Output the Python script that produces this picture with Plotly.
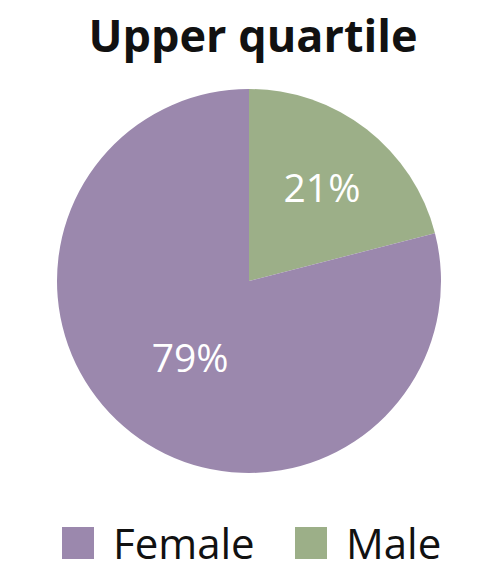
import plotly.graph_objects as go

# Data
labels = ["Female", "Male"]
values = [79, 21]
title_text = "Upper quartile"

colors = {
    "Female": "#9b88ad",
    "Male": "#9caf88",
}

# the page puts the figure 8px in from the top-left corner
OFF = 8
W, H = 498 - OFF, 573 - OFF
FONT = "Open Sans, Lato, sans-serif"


def px(x):
    return (x - OFF) / W


def py(y):
    return 1 - (y - OFF) / H


# Male slice runs clockwise from 12 o'clock, so feed it to the pie first
fig = go.Figure(go.Pie(
    labels=labels[::-1],
    values=values[::-1],
    sort=False,
    direction="clockwise",
    rotation=0,
    marker=dict(colors=[colors[l] for l in labels[::-1]], line=dict(width=0)),
    textinfo="percent",
    textposition="inside",
    insidetextorientation="horizontal",
    textfont=dict(family=FONT, size=39, color="white", weight=500),
    domain=dict(x=[px(57), px(441)], y=[py(473), py(89)]),
    showlegend=False,
    hoverinfo="label+percent",
))

# hand-made legend so the swatches can be big
legend_x = [62, 295]
for lab, x0 in zip(labels, legend_x):
    fig.add_shape(type="rect", xref="paper", yref="paper",
                  x0=px(x0), x1=px(x0 + 32),
                  y0=py(559), y1=py(527),
                  fillcolor=colors[lab], line=dict(width=0))
    fig.add_annotation(text=lab, xref="paper", yref="paper",
                       x=px(x0 + 49), y=py(542),
                       xanchor="left", yanchor="middle", showarrow=False,
                       font=dict(family=FONT, size=42, color="#111111"))

fig.update_layout(
    width=W, height=H,
    title=dict(text="<b>" + title_text + "</b>", x=0.5, xanchor="center",
               y=py(36), yanchor="middle",
               font=dict(family=FONT, size=45, color="#111111")),
    margin=dict(l=0, r=0, t=0, b=0),
    paper_bgcolor="white",
    plot_bgcolor="white",
)

fig.write_html("out.html")
